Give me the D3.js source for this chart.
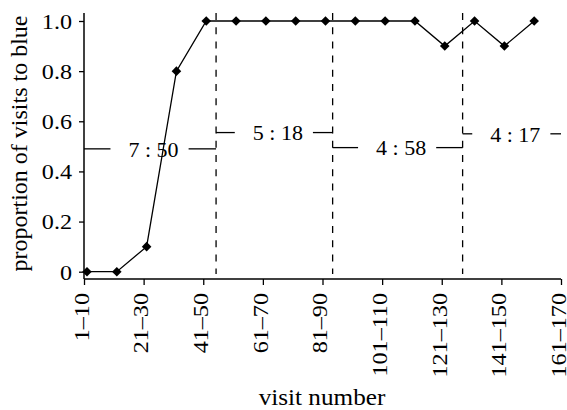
<!DOCTYPE html>
<html>
<head>
<meta charset="utf-8">
<script src="https://cdn.jsdelivr.net/npm/d3@7"></script>
<style>
  html, body { margin: 0; padding: 0; background: #fff; }
  svg { display: block; }
</style>
</head>
<body>
<svg id="chart" width="567" height="410"></svg>
<script>
// Visit bins (blocks of ten visits)
const categories = [
  "1–10", "11–20", "21–30", "31–40", "41–50", "51–60", "61–70", "71–80",
  "81–90", "91–100", "101–110", "111–120", "121–130", "131–140", "141–150",
  "151–160", "161–170"
];
// Labelled ticks (every second bin)
const tickIndices = [0, 2, 4, 6, 8, 10, 12, 14, 16];
// Proportion of visits to blue per bin
const proportionBlue = [0, 0, 0.1, 0.8, 1.0, 1.0, 1.0, 1.0, 1.0, 1.0, 1.0, 1.0, 0.9, 1.0, 0.9, 1.0];
const yTicks = [0, 0.2, 0.4, 0.6, 0.8, 1.0];

// Phases: boundaries (in bin units), ratio labels and label heights
const phaseBounds = [0, 4.43, 8.34, 12.70, 16];
const phaseLabels = ["7 : 50", "5 : 18", "4 : 58", "4 : 17"];
const phaseLevels = [0.49, 0.555, 0.495, 0.55];

const FONT = "'Liberation Serif', 'Times New Roman', serif";
const svg = d3.select("#chart");
const plotLeft = 84, plotRight = 561, axisY = 279, plotTop = 13;

const x = d3.scaleLinear().domain([0, categories.length - 1]).range([plotLeft, plotRight]);
const y = d3.scaleLinear().domain([0, 1]).range([271.7, 21]);

const stretch = 1.15;

// y axis
const gy = svg.append("g").attr("transform", `translate(${plotLeft},0)`)
  .call(d3.axisLeft(y).tickValues(yTicks).tickSize(5).tickSizeOuter(0)
    .tickFormat(d => d === 0 ? "0" : d.toFixed(1)));
gy.select(".domain").remove();
gy.selectAll(".tick line").attr("stroke", "#000").attr("stroke-width", 1.3);
gy.selectAll(".tick text")
  .style("font-family", FONT)
  .style("font-size", "21px")
  .attr("fill", "#000")
  .attr("x", null)
  .attr("transform", `translate(-12,0) scale(${stretch},1)`)
  .attr("dy", "0.35em");
svg.append("line")
  .attr("x1", plotLeft).attr("x2", plotLeft).attr("y1", plotTop).attr("y2", axisY)
  .attr("stroke", "#000").attr("stroke-width", 1.5);

// x axis
const gx = svg.append("g").attr("transform", `translate(0,${axisY})`)
  .call(d3.axisBottom(x).tickValues(tickIndices).tickSize(6).tickSizeOuter(0)
    .tickFormat(i => categories[i]));
gx.select(".domain").remove();
gx.selectAll(".tick line").attr("stroke", "#000").attr("stroke-width", 1.3);
gx.selectAll(".tick text")
  .style("font-family", FONT)
  .style("font-size", "21px")
  .attr("fill", "#000")
  .attr("y", null).attr("dy", "0.35em")
  .attr("text-anchor", "end")
  .attr("transform", `translate(-3,14) rotate(-90) scale(${stretch},1)`);
svg.append("line")
  .attr("x1", plotLeft).attr("x2", plotRight).attr("y1", axisY).attr("y2", axisY)
  .attr("stroke", "#000").attr("stroke-width", 1.5);

// axis titles
svg.append("text")
  .attr("transform", "translate(322,405) scale(1.05,1)")
  .attr("text-anchor", "middle")
  .style("font-family", FONT)
  .style("font-size", "24px")
  .text("visit number");
svg.append("text")
  .attr("transform", "translate(27,143.5) rotate(-90)")
  .attr("text-anchor", "middle")
  .style("font-family", FONT)
  .style("font-size", "24px")
  .text("proportion of visits to blue");

// phase dividers
svg.append("g").selectAll("line")
  .data(phaseBounds.slice(1, -1))
  .join("line")
  .attr("x1", d => x(d)).attr("x2", d => x(d))
  .attr("y1", plotTop).attr("y2", 274)
  .attr("stroke", "#000").attr("stroke-width", 1.3)
  .attr("stroke-dasharray", "7,7.2");

// phase ratio labels with leader lines
const phases = phaseLabels.map((label, k) => ({
  label, level: phaseLevels[k], x0: x(phaseBounds[k]), x1: x(phaseBounds[k + 1])
}));
const pg = svg.append("g");
phases.forEach(p => {
  const cy = y(p.level);
  const t = pg.append("text")
    .attr("x", (p.x0 + p.x1) / 2 + 3.5)
    .attr("y", cy)
    .attr("dy", "0.35em")
    .attr("text-anchor", "middle")
    .style("font-family", FONT)
    .style("font-size", "22px")
    .text(p.label);
  const bb = t.node().getBBox();
  pg.append("line")
    .attr("x1", p.x0).attr("x2", bb.x - 18)
    .attr("y1", cy).attr("y2", cy)
    .attr("stroke", "#000").attr("stroke-width", 1.3);
  pg.append("line")
    .attr("x1", bb.x + bb.width + 10).attr("x2", p.x1)
    .attr("y1", cy).attr("y2", cy)
    .attr("stroke", "#000").attr("stroke-width", 1.3);
});

// series line and diamond markers
const series = svg.append("g").attr("transform", "translate(3,0)");
series.append("path")
  .datum(proportionBlue)
  .attr("fill", "none")
  .attr("stroke", "#000")
  .attr("stroke-width", 1.3)
  .attr("d", d3.line().x((d, i) => x(i)).y(d => y(d)));
series.selectAll("path.marker")
  .data(proportionBlue)
  .join("path")
  .attr("class", "marker")
  .attr("d", d3.symbol(d3.symbolSquare, 46))
  .attr("transform", (d, i) => `translate(${x(i)},${y(d)}) rotate(45)`)
  .attr("fill", "#000");
</script>
</body>
</html>
